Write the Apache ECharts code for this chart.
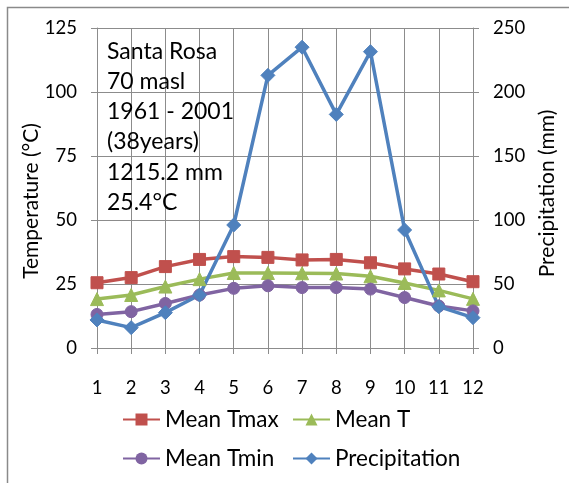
<!DOCTYPE html>
<html><head><meta charset="utf-8">
<script src="https://cdn.jsdelivr.net/npm/echarts@6/dist/echarts.min.js"></script>
<style>html,body{margin:0;padding:0;background:#fff}#c{width:569px;height:483px}</style>
</head><body><div id="c"></div>
<script>
const months = ['1','2','3','4','5','6','7','8','9','10','11','12'];
const meanTmax = [25.5, 27.5, 31.8, 34.6, 35.7, 35.4, 34.4, 34.6, 33.3, 30.9, 28.9, 25.9];
const meanT = [19.1, 20.7, 24.0, 26.9, 29.3, 29.3, 29.2, 29.1, 28.0, 25.4, 22.5, 19.2];
const meanTmin = [13.1, 14.2, 17.4, 20.7, 23.3, 24.3, 23.6, 23.6, 23.0, 19.7, 16.4, 14.5];
const precipitation = [21.9, 15.9, 27.6, 41.4, 96.1, 213.0, 235.0, 182.5, 231.5, 92.2, 32.3, 23.7];
const tempAxis = {min: 0, max: 125, interval: 25};
const precipAxis = {min: 0, max: 250, interval: 50};
const annotation = ['Santa Rosa', '70 masl', '1961 - 2001', '(38years)', '1215.2 mm', '25.4°C'];

const FONT = 'Lato';
const gridColor = '#8c8c8c';
const chart = echarts.init(document.getElementById('c'), null, {renderer: 'canvas'});

function legendAt(name, left, top) {
  return {
    data: [name], left: left, top: top, itemWidth: 37, itemHeight: 15, itemGap: 0,
    textStyle: {fontFamily: FONT, fontSize: 22.5, color: '#000'}, padding: 0, selectedMode: true
  };
}
function lineSeries(name, data, color, symbol, size, yIndex) {
  return {
    name: name, type: 'line', data: data, yAxisIndex: yIndex,
    symbol: symbol, symbolSize: size, showSymbol: true,
    lineStyle: {color: color, width: 3.5},
    itemStyle: {color: color, borderColor: color},
    emphasis: {disabled: true}, animation: false
  };
}

chart.setOption({
  animation: false,
  backgroundColor: '#fff',
  textStyle: {fontFamily: FONT},
  grid: {left: 97, right: 96, top: 28, bottom: 135},
  graphic: [
    {type: 'rect', shape: {x: 7.5, y: 7.5, width: 700, height: 700}, style: {fill: null, stroke: '#8a8a8a', lineWidth: 1.5}, silent: true, z: -10},
    {type: 'text', left: 107, top: 36, style: {text: annotation.join('\n'), font: '23px ' + FONT, fill: '#000', lineHeight: 30.3}, z: 10}
  ],
  legend: [
    legendAt('Mean Tmax', 122, 408),
    legendAt('Mean T', 292, 408),
    legendAt('Mean Tmin', 122, 447),
    legendAt('Precipitation', 292, 447)
  ],
  xAxis: {
    type: 'category', data: months, boundaryGap: false,
    axisLine: {show: true, lineStyle: {color: gridColor, width: 1}},
    axisTick: {show: true, length: 6, lineStyle: {color: gridColor}},
    axisLabel: {color: '#000', fontSize: 18.5, fontFamily: FONT, margin: 31, interval: 0},
    splitLine: {show: true, lineStyle: {color: gridColor, width: 1}}
  },
  yAxis: [
    {
      type: 'value', min: tempAxis.min, max: tempAxis.max, interval: tempAxis.interval,
      name: 'Temperature (°C)', nameLocation: 'middle', nameRotate: 90, nameGap: 55,
      nameMoveOverlap: false,
      nameTextStyle: {fontSize: 21, color: '#000', fontFamily: FONT, padding: [0, 26, 0, 0]},
      axisLine: {show: true, lineStyle: {color: gridColor}},
      axisTick: {show: true, length: 6, lineStyle: {color: gridColor}},
      axisLabel: {color: '#000', fontSize: 18.5, fontFamily: FONT, margin: 20},
      splitLine: {show: true, lineStyle: {color: gridColor, width: 1}}
    },
    {
      type: 'value', min: precipAxis.min, max: precipAxis.max, interval: precipAxis.interval,
      position: 'right',
      name: 'Precipitation (mm)', nameLocation: 'middle', nameRotate: 90, nameGap: 64,
      nameMoveOverlap: false,
      nameTextStyle: {fontSize: 21, color: '#000', fontFamily: FONT, padding: [0, 11, 0, 0]},
      axisLine: {show: true, lineStyle: {color: gridColor}},
      axisTick: {show: true, length: 6, lineStyle: {color: gridColor}},
      axisLabel: {color: '#000', fontSize: 18.5, fontFamily: FONT, margin: 20},
      splitLine: {show: false}
    }
  ],
  series: [
    lineSeries('Mean Tmax', meanTmax, '#C0504D', 'rect', 12, 0),
    lineSeries('Mean T', meanT, '#9BBB59', 'triangle', 13, 0),
    lineSeries('Mean Tmin', meanTmin, '#8064A2', 'circle', 12, 0),
    lineSeries('Precipitation', precipitation, '#4F81BD', 'diamond', 14, 1)
  ]
});
</script></body></html>
